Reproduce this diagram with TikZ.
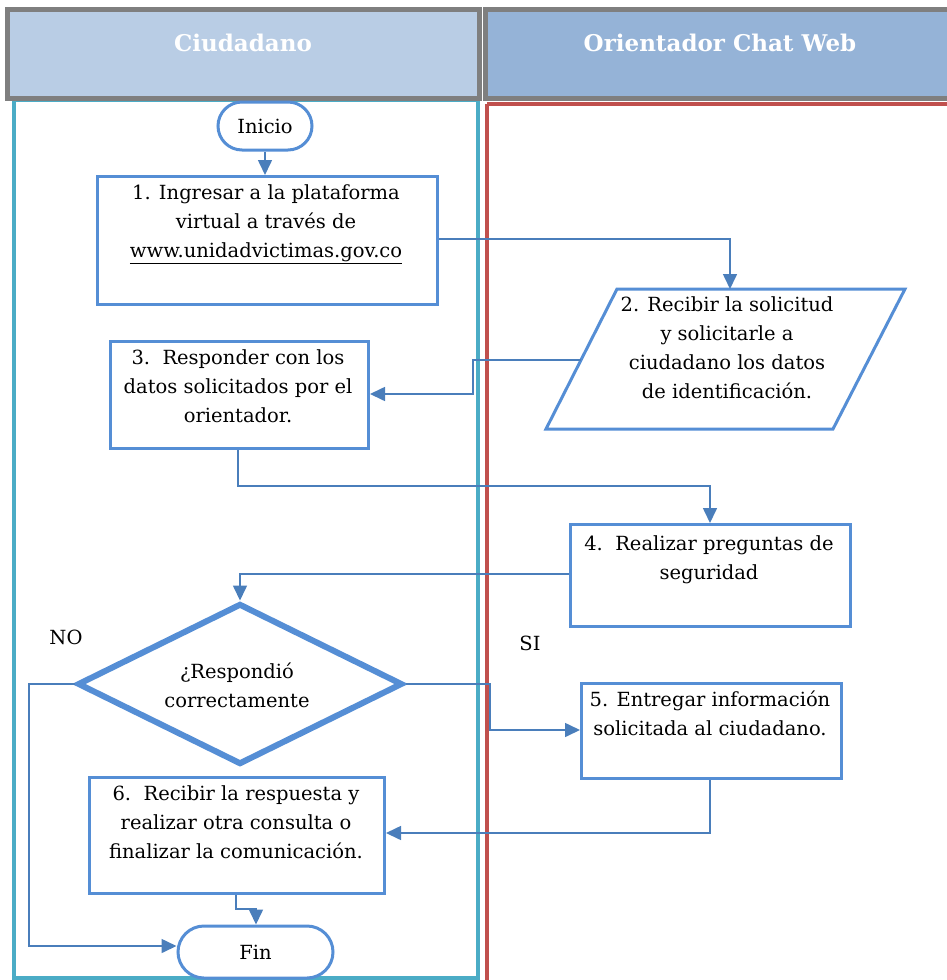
\documentclass[tikz,border=0pt]{standalone}
\usepackage{fontspec}
\setmainfont{DejaVu Serif}
\usetikzlibrary{arrows.meta,shapes.geometric}
\definecolor{boxblue}{RGB}{85,142,213}
\definecolor{linkblue}{RGB}{74,126,187}
\definecolor{headgray}{RGB}{127,127,127}
\definecolor{headA}{RGB}{185,205,229}
\definecolor{headB}{RGB}{149,179,215}
\definecolor{lanecyan}{RGB}{75,172,198}
\definecolor{lanered}{RGB}{192,80,77}
\tikzset{
  stepbox/.style={draw=boxblue, line width=3pt, fill=white, inner sep=0pt},
  termbox/.style={draw=boxblue, line width=3pt, fill=white, rounded corners=24pt, inner sep=0pt, font=\fontsize{19.5}{29}\selectfont},
  txt/.style={font=\fontsize{19.5}{29}\selectfont, align=center, inner sep=0pt},
  headtxt/.style={font=\fontsize{23}{28}\selectfont\bfseries, text=white, inner sep=0pt},
  link/.style={draw=linkblue, line width=1.6pt},
  arr/.style={link, -{Triangle[length=15pt,width=14pt]}},
}
\begin{document}
\begin{tikzpicture}[x=1pt,y=-1pt]
\useasboundingbox (0,0) rectangle (947,980);
\clip (0,0) rectangle (947,980);
% lanes
\draw[lanecyan, line width=4pt] (14,100) rectangle (478,978);
\draw[lanered, line width=4pt] (487,104) -- (987,104) (487,104) -- (487,990);
% headers
\draw[headgray, line width=5pt, fill=headA] (7,9) rectangle (479,98);
\draw[headgray, line width=5pt, fill=headB] (485,9) rectangle (990,98);
\node[headtxt] (h1) at (243,43) {Ciudadano};
\node[headtxt] (h2) at (720,43) {Orientador Chat Web};
% nodes
\node[termbox, minimum width=94pt, minimum height=48pt] (ini) at (265,126) {Inicio};
\node[stepbox, minimum width=340pt, minimum height=128pt, anchor=north west] (b1) at (96,175) {};
\node[txt, anchor=north] (b1t) at (266,184) {1. Ingresar a la plataforma\\virtual a través de\\\underline{www.unidadvictimas.gov.co}};
% parallelogram
\coordinate (p2tl) at (617,289);
\coordinate (p2tr) at (905,289);
\coordinate (p2br) at (833,429);
\coordinate (p2bl) at (546,429);
\coordinate (p2top) at (730,289);
\coordinate (p2left) at (581,360);
\draw[draw=boxblue, line width=3pt, fill=white, line join=miter] (p2tl) -- (p2tr) -- (p2br) -- (p2bl) -- cycle;
\node[txt, anchor=north] (p2t) at (727,296) {2. Recibir la solicitud\\y solicitarle a\\ciudadano los datos\\de identificación.};
\node[stepbox, minimum width=258pt, minimum height=107pt, anchor=north west] (b3) at (109,340) {};
\node[txt, anchor=north] (b3t) at (238,349) {3.\ \ Responder con los\\datos solicitados por el\\orientador.};
\node[stepbox, minimum width=280pt, minimum height=102pt, anchor=north west] (b4) at (569,523) {};
\node[txt, anchor=north] (b4t) at (709,535) {4.\ \ Realizar preguntas de\\seguridad};
\node[diamond, draw=boxblue, line width=6pt, fill=white, minimum width=325pt, minimum height=161pt, inner sep=0pt] (d) at (240,684) {};
\node[txt, anchor=north] (dt) at (237,663) {¿Respondió\\correctamente};
\node[txt] (no) at (66,637) {NO};
\node[txt] (si) at (530,643) {SI};
\node[stepbox, minimum width=260pt, minimum height=95pt, anchor=north west] (b5) at (580,682) {};
\node[txt, anchor=north] (b5t) at (710,691) {5. Entregar información\\solicitada al ciudadano.};
\node[stepbox, minimum width=295pt, minimum height=116pt, anchor=north west] (b6) at (88,776) {};
\node[txt, anchor=north] (b6t) at (236,785) {6.\ \ Recibir la respuesta y\\realizar otra consulta o\\finalizar la comunicación.};
\node[termbox, minimum width=155pt, minimum height=52pt, rounded corners=26pt] (fin) at (255.5,952) {Fin};
% connectors
\draw[arr] (ini.south) -- (b1.north -| ini.south);
\draw[arr] (b1.east |- 0,239) -| (p2top);
\draw[arr] (p2left) -- (473,360) -- (473,394) -- (b3.east |- 0,394);
\draw[arr] (b3.south -| 238,0) -- (238,486) -| (b4.north -| 710,0);
\draw[arr] (b4.west |- 0,574) -| (d.north);
\draw[arr] (d.west) -- (29,684) -- (29,946) -- (fin.west |- 0,946);
\draw[arr] (d.east) -- (490,684) -- (490,730) -- (b5.west |- 0,730);
\draw[arr] (b5.south -| 710,0) -- (710,833) -- (b6.east |- 0,833);
\draw[arr] (b6.south -| 236,0) -- (236,909) -- (256,909) -- (fin.north -| 256,0);
\end{tikzpicture}
\end{document}
